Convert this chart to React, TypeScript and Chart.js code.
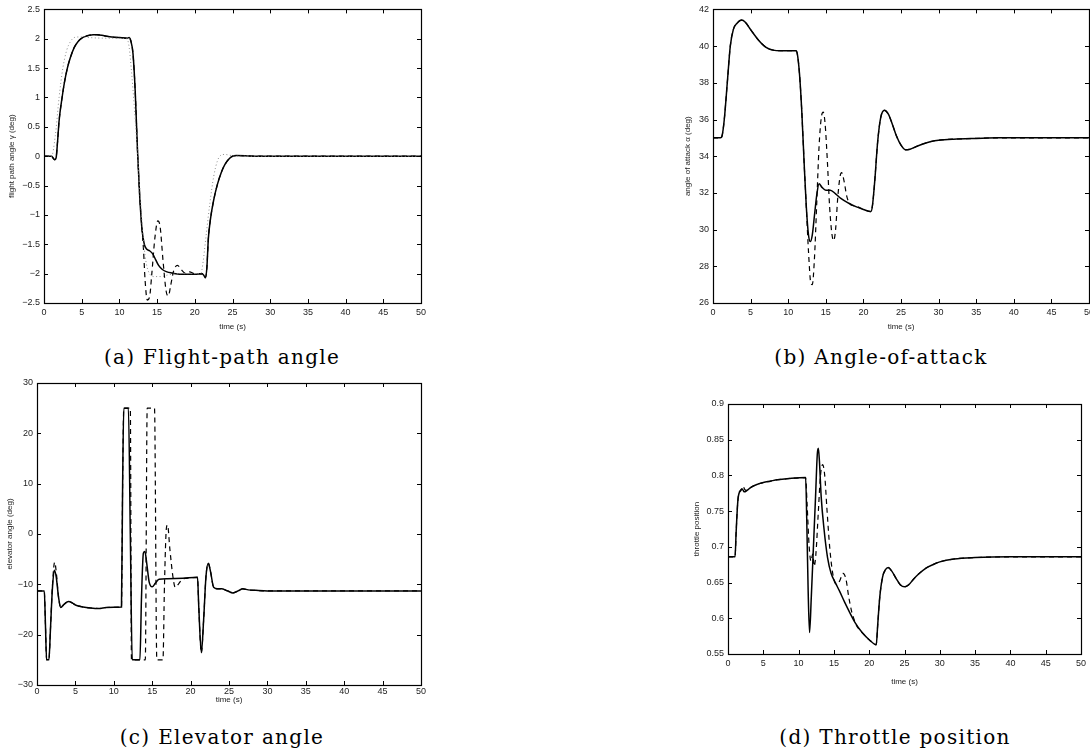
import React, { useEffect, useRef } from 'react';
import { Chart, registerables } from 'chart.js';

Chart.register(...registerables);

type P = [number, number];

// ---------- (a) flight-path angle (deg) ----------
const gammaRef: P[] = [
  [0, 0], [1, 0], [1.5, 0.35], [2, 1.0], [2.5, 1.5], [3, 1.8], [3.5, 1.95], [4, 2.02], [4.5, 2.03],
  [5, 2.03], [6, 2.02], [8, 2.01], [11, 2.0], [11.3, 1.85], [11.6, 1.45], [12, 0.8], [12.4, 0.05],
  [12.8, -0.75], [13.2, -1.45], [13.6, -1.85], [14, -2.0], [14.5, -2.05], [15.5, -2.05], [16.5, -2.02],
  [18, -2.0], [20.8, -2.0], [21.1, -1.8], [21.5, -1.35], [22, -0.8], [22.5, -0.35], [23, -0.08],
  [23.5, 0.02], [24, 0.03], [24.5, 0.02], [25.5, 0], [50, 0],
];
const gammaSolid: P[] = [
  [0, 0], [1, 0], [1.2, -0.03], [1.4, -0.06], [1.6, -0.03], [1.8, 0.25], [2.0, 0.6], [2.4, 1.0],
  [2.7, 1.25], [3.1, 1.5], [3.5, 1.68], [4, 1.85], [4.5, 1.95], [5, 2.01], [5.5, 2.04], [6, 2.06],
  [6.5, 2.07], [7, 2.07], [8, 2.05], [9, 2.03], [10, 2.02], [11, 2.01], [11.3, 2.02], [11.5, 1.97],
  [11.8, 1.75], [12.1, 1.1], [12.4, 0.1], [12.7, -0.7], [13, -1.25], [13.3, -1.5], [13.6, -1.58],
  [14, -1.61], [14.4, -1.66], [14.8, -1.76], [15.2, -1.86], [15.7, -1.93], [16.3, -1.97], [17, -1.99],
  [18, -2.01], [20, -2.01], [21, -2.0], [21.2, -2.03], [21.4, -2.07], [21.6, -1.9], [21.8, -1.4],
  [22.1, -1.05], [22.5, -0.75], [23, -0.48], [23.5, -0.28], [24, -0.14], [24.5, -0.05], [25, 0],
  [25.5, 0.01], [27, 0.005], [28, 0], [50, 0],
];
const gammaDashedPart: P[] = [
  [13.0, -1.25], [13.2, -1.6], [13.4, -2.1], [13.7, -2.45], [14.0, -2.4], [14.3, -2.0], [14.7, -1.4],
  [15.1, -1.1], [15.4, -1.2], [15.8, -1.8], [16.2, -2.3], [16.5, -2.38], [16.8, -2.2], [17.2, -1.95],
  [17.7, -1.86], [18.2, -1.93], [18.7, -1.99], [19.3, -1.97], [20, -2.0],
];

// ---------- (b) angle of attack (deg) ----------
const alphaSolid: P[] = [
  [0, 35], [1, 35], [1.2, 35.1], [1.5, 36], [1.9, 38], [2.3, 40], [2.7, 40.9], [3.2, 41.25],
  [3.8, 41.42], [4.3, 41.3], [5, 40.9], [6, 40.35], [7, 39.95], [8, 39.78], [9, 39.75], [11, 39.75],
  [11.2, 39.6], [11.5, 38.5], [11.8, 36.5], [12.1, 33.8], [12.4, 31.3], [12.7, 29.7], [12.95, 29.35],
  [13.2, 29.7], [13.5, 30.8], [13.8, 31.9], [14.1, 32.5], [14.5, 32.3], [15, 32.15], [15.6, 32.15],
  [16.3, 31.95], [17, 31.7], [18, 31.45], [19, 31.25], [20, 31.1], [21, 30.98], [21.2, 31.3],
  [21.5, 32.6], [21.9, 34.8], [22.3, 36.1], [22.8, 36.5], [23.3, 36.3], [23.8, 35.8], [24.4, 35.1],
  [25, 34.6], [25.6, 34.35], [26.2, 34.38], [27, 34.52], [28, 34.68], [29, 34.8], [30, 34.87],
  [32, 34.93], [35, 34.97], [38, 35], [50, 35],
];
const alphaDashedPart: P[] = [
  [12.4, 31.3], [12.7, 28.8], [13.0, 27.1], [13.2, 27.0], [13.5, 28.5], [13.8, 31.5], [14.1, 34.5],
  [14.4, 36.1], [14.65, 36.4], [14.9, 35.8], [15.2, 33.8], [15.5, 31.3], [15.8, 29.8], [16.05, 29.4],
  [16.3, 30.0], [16.6, 31.8], [16.9, 32.9], [17.1, 33.1], [17.4, 32.7], [17.8, 31.8], [18.2, 31.4],
  [18.7, 31.3], [19.2, 31.25], [20, 31.1],
];

// ---------- (c) elevator angle (deg) ----------
const elevSolid: P[] = [
  [0, -11.3], [0.95, -11.3], [1.1, -18], [1.25, -25], [1.55, -25], [1.75, -19], [2.0, -11],
  [2.25, -7.2], [2.5, -8.5], [2.8, -12.5], [3.1, -14.6], [3.5, -14.0], [4.1, -13.4], [4.6, -13.7],
  [5, -14.1], [6, -14.5], [7, -14.7], [8, -14.8], [9, -14.6], [10, -14.55], [11, -14.5], [11.15, 10],
  [11.3, 25], [11.9, 25], [12.15, 0], [12.4, -25], [13.4, -25], [13.6, -13], [13.85, -3.8],
  [14.05, -3.5], [14.3, -6], [14.6, -9.5], [15.0, -10.5], [15.4, -9.8], [15.9, -9.0], [17, -8.9],
  [19, -8.8], [20.9, -8.6], [21.05, -14], [21.4, -23.6], [21.7, -17], [22, -8.5], [22.3, -5.8],
  [22.6, -7.5], [23, -10.6], [23.5, -10.9], [24, -10.9], [24.8, -11.3], [25.5, -11.7], [26.2, -11.3],
  [26.8, -10.9], [27.5, -11.1], [28.5, -11.2], [30, -11.3], [50, -11.3],
];
const elevDashedEarly: P[] = [[2.0, -10.5], [2.3, -5.6], [2.55, -8.2]];
const elevDashedPart: P[] = [
  [11.9, 25], [12.15, 25], [12.3, -25], [14.1, -25], [14.35, 25], [15.3, 25], [15.6, -25], [16.4, -25],
  [16.6, -10], [16.85, 1.2], [17.0, 1.8], [17.3, -3], [17.7, -8.5], [18.0, -10.6], [18.4, -10],
  [18.9, -9.0], [19.5, -8.8],
];

// ---------- (d) throttle position ----------
const thrSolid: P[] = [
  [0, 0.686], [1.0, 0.686], [1.15, 0.72], [1.4, 0.765], [1.7, 0.778], [2.0, 0.781], [2.3, 0.777],
  [2.7, 0.779], [3.2, 0.783], [4, 0.787], [5, 0.79], [6, 0.792], [7, 0.794], [8, 0.795], [9, 0.796],
  [11, 0.797], [11.15, 0.74], [11.35, 0.64], [11.55, 0.58], [11.8, 0.63], [12.1, 0.7], [12.4, 0.77],
  [12.65, 0.83], [12.8, 0.838], [12.95, 0.82], [13.2, 0.77], [13.6, 0.725], [14.1, 0.685],
  [14.6, 0.663], [15.2, 0.65], [15.8, 0.638], [16.5, 0.623], [17.3, 0.607], [18, 0.594], [19, 0.58],
  [20, 0.57], [21, 0.563], [21.2, 0.59], [21.5, 0.63], [21.9, 0.658], [22.3, 0.668], [22.7, 0.671],
  [23.2, 0.666], [23.8, 0.656], [24.4, 0.647], [25, 0.644], [25.6, 0.647], [26.3, 0.655], [27, 0.662],
  [28, 0.67], [29, 0.675], [30, 0.679], [32, 0.683], [35, 0.685], [40, 0.686], [50, 0.686],
];
const thrDashedEarly: P[] = [[1.8, 0.778], [2.1, 0.785], [2.4, 0.78]];
const thrDashedPart: P[] = [
  [11, 0.797], [11.2, 0.76], [11.5, 0.7], [11.75, 0.68], [12.0, 0.69], [12.2, 0.673], [12.45, 0.69],
  [12.8, 0.75], [13.1, 0.8], [13.4, 0.815], [13.7, 0.8], [14.0, 0.755], [14.4, 0.7], [14.8, 0.665],
  [15.3, 0.648], [15.8, 0.652], [16.3, 0.663], [16.7, 0.655], [17.1, 0.63], [17.5, 0.61], [17.8, 0.6],
  [18.2, 0.59],
];

// the dashed run coincides with the solid one outside the segments read separately
function withSegments(base: P[], segments: P[][]): P[] {
  let out = base.slice();
  for (const seg of segments) {
    const a = seg[0][0];
    const b = seg[seg.length - 1][0];
    out = [...out.filter((p) => p[0] < a), ...seg, ...out.filter((p) => p[0] > b)];
  }
  return out;
}

const minus = (v: number, digits: number) => {
  const s = Number(v.toFixed(digits)).toString();
  return s.replace('-', '\u2212');
};

const matlabBox = {
  id: 'matlabBox',
  afterDatasetsDraw(chart: any) {
    const { ctx, chartArea, scales } = chart;
    const { left, right, top, bottom } = chartArea;
    const x = scales.x;
    const y = scales.y;
    const L = 4;
    ctx.save();
    ctx.strokeStyle = '#000';
    ctx.lineWidth = 1;
    ctx.beginPath();
    x.ticks.forEach((t: any) => {
      const px = Math.round(x.getPixelForValue(t.value)) + 0.5;
      ctx.moveTo(px, bottom);
      ctx.lineTo(px, bottom - L);
      ctx.moveTo(px, top);
      ctx.lineTo(px, top + L);
    });
    y.ticks.forEach((t: any) => {
      const py = Math.round(y.getPixelForValue(t.value)) + 0.5;
      ctx.moveTo(left, py);
      ctx.lineTo(left + L, py);
      ctx.moveTo(right, py);
      ctx.lineTo(right - L, py);
    });
    ctx.stroke();
    ctx.lineWidth = 1.2;
    ctx.strokeRect(Math.round(left) + 0.5, Math.round(top) + 0.5, Math.round(right - left), Math.round(bottom - top));
    ctx.restore();
  },
};

type Series = { points: P[]; kind: 'solid' | 'dashed' | 'dotted' };
type Spec = {
  w: number; h: number; padTop: number; padRight: number; yW: number; xH: number;
  yMin: number; yMax: number; yStep: number; yDigits: number; yTitle: string;
  yTitlePad: number; xTitlePad: number; xTickPad: number; series: Series[];
};

const tickFont = { family: "'Liberation Sans', Arial, sans-serif", size: 9 };
const titleFont = { family: "'Liberation Sans', Arial, sans-serif", size: 8 };

function makeConfig(s: Spec): any {
  return {
    type: 'line',
    data: {
      datasets: s.series.map((ser) => ({
        data: ser.points.map(([x, y]) => ({ x, y })),
        borderColor: ser.kind === 'dotted' ? '#8a8a8a' : '#000',
        borderWidth: ser.kind === 'solid' ? 1.5 : ser.kind === 'dashed' ? 1.2 : 1,
        borderDash: ser.kind === 'dashed' ? [5, 4] : ser.kind === 'dotted' ? [1, 2.5] : [],
        pointRadius: 0,
        fill: false,
        cubicInterpolationMode: 'monotone',
      })),
    },
    options: {
      animation: false,
      responsive: false,
      maintainAspectRatio: false,
      events: [],
      layout: { padding: { top: s.padTop, right: s.padRight, left: 0, bottom: 0 } },
      plugins: { legend: { display: false }, tooltip: { enabled: false } },
      scales: {
        x: {
          type: 'linear', min: 0, max: 50,
          ticks: { stepSize: 5, font: tickFont, color: '#222', padding: s.xTickPad, maxRotation: 0, autoSkip: false },
          grid: { display: false, drawTicks: false },
          border: { display: false },
          title: { display: true, text: 'time (s)', font: titleFont, color: '#222', padding: { top: 0, bottom: s.xTitlePad } },
          afterFit: (sc: any) => { sc.height = s.xH; },
        },
        y: {
          type: 'linear', min: s.yMin, max: s.yMax,
          ticks: { stepSize: s.yStep, font: tickFont, color: '#222', padding: 4, autoSkip: false,
            callback: (v: number) => minus(v, s.yDigits) },
          grid: { display: false, drawTicks: false },
          border: { display: false },
          title: { display: true, text: s.yTitle, font: titleFont, color: '#222', padding: { top: s.yTitlePad, bottom: 0 } },
          afterFit: (sc: any) => { sc.width = s.yW; },
        },
      },
    },
    plugins: [matlabBox],
  };
}

function Plot({ spec, left, top }: { spec: Spec; left: number; top: number }) {
  const ref = useRef<HTMLCanvasElement>(null);
  useEffect(() => {
    if (!ref.current) return;
    const chart = new Chart(ref.current, makeConfig(spec));
    return () => chart.destroy();
  }, [spec]);
  return (
    <canvas ref={ref} width={spec.w} height={spec.h}
      style={{ position: 'absolute', left, top, width: spec.w, height: spec.h }} />
  );
}

const specA: Spec = {
  w: 440, h: 340, padTop: 6, padRight: 19, yW: 44, xH: 37, yMin: -2.5, yMax: 2.5, yStep: 0.5, yDigits: 1,
  yTitle: 'flight path angle \u03b3 (deg)', yTitlePad: 7, xTitlePad: 8, xTickPad: 4,
  series: [
    { points: gammaRef, kind: 'dotted' },
    { points: withSegments(gammaSolid, [gammaDashedPart]), kind: 'dashed' },
    { points: gammaSolid, kind: 'solid' },
  ],
};
const specB: Spec = {
  w: 440, h: 340, padTop: 6, padRight: 21, yW: 43, xH: 37, yMin: 26, yMax: 42, yStep: 2, yDigits: 0,
  yTitle: 'angle of attack \u03b1 (deg)', yTitlePad: 13, xTitlePad: 8, xTickPad: 4,
  series: [
    { points: withSegments(alphaSolid, [alphaDashedPart]), kind: 'dashed' },
    { points: alphaSolid, kind: 'solid' },
  ],
};
const specC: Spec = {
  w: 440, h: 340, padTop: 13, padRight: 19, yW: 37, xH: 25, yMin: -30, yMax: 30, yStep: 10, yDigits: 0,
  yTitle: 'elevator angle (deg)', yTitlePad: 5, xTitlePad: 5, xTickPad: 1,
  series: [
    { points: withSegments(elevSolid, [elevDashedEarly, elevDashedPart]), kind: 'dashed' },
    { points: elevSolid, kind: 'solid' },
  ],
};
const specD: Spec = {
  w: 430, h: 330, padTop: 24, padRight: 19, yW: 58, xH: 56, yMin: 0.55, yMax: 0.9, yStep: 0.05, yDigits: 2,
  yTitle: 'throttle position', yTitlePad: 22, xTitlePad: 23, xTickPad: 4,
  series: [
    { points: withSegments(thrSolid, [thrDashedEarly, thrDashedPart]), kind: 'dashed' },
    { points: thrSolid, kind: 'solid' },
  ],
};

const captionStyle = (cx: number, cy: number): React.CSSProperties => ({
  position: 'absolute', left: cx - 200, top: cy - 12, width: 400, height: 24, lineHeight: '24px',
  textAlign: 'center', fontFamily: "'DejaVu Serif', serif", fontSize: 20, letterSpacing: '1.3px',
  color: '#000', whiteSpace: 'nowrap',
});

export default function App() {
  return (
    <div style={{ position: 'absolute', left: 0, top: 0, width: 1090, height: 752, overflow: 'hidden', background: '#fff' }}>
      <Plot spec={specA} left={0} top={0} />
      <Plot spec={specB} left={670} top={0} />
      <Plot spec={specC} left={0} top={370} />
      <Plot spec={specD} left={670} top={380} />
      <div style={captionStyle(222, 357)}>(a) Flight-path angle</div>
      <div style={captionStyle(881, 357)}>(b) Angle-of-attack</div>
      <div style={captionStyle(222, 737)}>(c) Elevator angle</div>
      <div style={captionStyle(895, 737)}>(d) Throttle position</div>
    </div>
  );
}
